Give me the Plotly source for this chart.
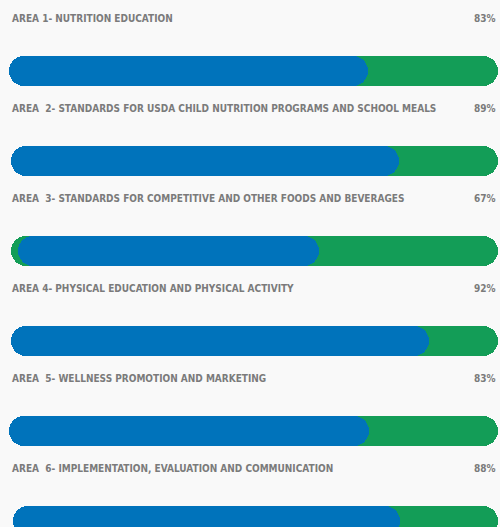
import plotly.graph_objects as go

# ---- data ----
area_labels = [
    "AREA 1- NUTRITION EDUCATION",
    "AREA\u00a0 2- STANDARDS FOR USDA CHILD NUTRITION PROGRAMS AND SCHOOL MEALS",
    "AREA\u00a0 3- STANDARDS FOR COMPETITIVE AND OTHER FOODS AND BEVERAGES",
    "AREA 4- PHYSICAL EDUCATION AND PHYSICAL ACTIVITY",
    "AREA\u00a0 5- WELLNESS PROMOTION AND MARKETING",
    "AREA\u00a0 6- IMPLEMENTATION, EVALUATION AND COMMUNICATION",
]
percent_labels = ["83%", "89%", "67%", "92%", "83%", "88%"]
track_start = [0.0, 0.4, 0.4, 0.4, 0.0, 0.8]
track_end = [100, 100, 100, 100, 100, 100]
fill_start = [0.0, 0.4, 1.8, 0.4, 0.0, 0.8]
fill_end = [73.4, 79.8, 63.4, 85.9, 73.6, 80.0]

BLUE = "#0073bb"
GREEN = "#139d57"
GREY = "#7b7b7b"
BG = "#f9f9f9"
rows = list(range(len(area_labels)))
BAR_W = 0.328          # bar thickness in row units
LABEL_OFF = 0.578      # label sits this far above its bar


def stadium(starts, ends, color):
    return go.Bar(
        y=rows, base=starts,
        x=[e - s for s, e in zip(starts, ends)],
        orientation="h", width=BAR_W,
        marker=dict(color=color, line=dict(width=0), cornerradius="50%"),
        hoverinfo="skip", showlegend=False,
    )


fig = go.Figure()
fig.add_trace(stadium(track_start, track_end, GREEN))
fig.add_trace(stadium(fill_start, fill_end, BLUE))

label_font = dict(family="DejaVu Sans Condensed", size=10, color=GREY, weight="bold")
for i, (lab, pct) in enumerate(zip(area_labels, percent_labels)):
    fig.add_annotation(x=0.3, y=i - LABEL_OFF, text=lab, showarrow=False,
                       xanchor="left", yanchor="middle", font=label_font)
    fig.add_annotation(x=100, y=i - LABEL_OFF, text=pct, showarrow=False,
                       xanchor="right", yanchor="middle", font=label_font)

fig.update_layout(
    width=500, height=527,
    margin=dict(l=9, r=2, t=0, b=0),
    paper_bgcolor=BG, plot_bgcolor=BG,
    barmode="overlay", bargap=0,
    xaxis=dict(range=[0, 100], visible=False, fixedrange=True),
    yaxis=dict(range=[5.067, -0.789], visible=False, fixedrange=True),
)

fig.write_html("out.html", config={"displayModeBar": False},
               post_script="document.body.style.margin='0';")
